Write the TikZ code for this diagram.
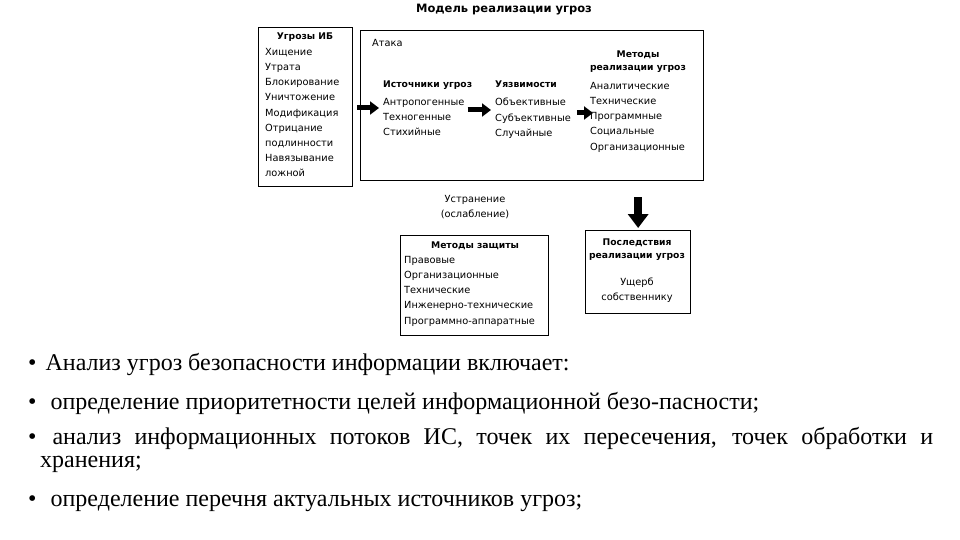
\documentclass[tikz,border=0pt]{standalone}
\usepackage{fontspec}
\setmainfont{Liberation Serif}
\newfontfamily\schemefont{DejaVu Sans}
\usetikzlibrary{arrows.meta,positioning}
\tikzset{frame/.style={draw, line width=1.3pt, anchor=north west},
         listtext/.style={font=\schemefont\fontsize{9.8}{15.2}\selectfont,
            align=left, anchor=north west, inner sep=0pt},
         headtext/.style={font=\schemefont\bfseries\fontsize{9.2}{13}\selectfont,
            align=center, inner sep=0pt},
         fat/.style={-{Triangle[length=9pt,width=13pt]}, line width=5pt},
         bigfat/.style={-{Triangle[length=14pt,width=20pt]}, line width=8pt},
         bullettext/.style={font=\fontsize{24}{23}\selectfont,
            anchor=base west, inner sep=0pt}}

\begin{document}
\begin{tikzpicture}[x=1pt,y=-1pt]
  \useasboundingbox (0,0) rectangle (960,540);
  % title
  \node[headtext, font=\schemefont\bfseries\fontsize{11.5}{13}\selectfont] (title) at (504,10) {Модель реализации угроз};
  % threats
  \node[frame, minimum width=94pt, minimum height=159pt] (threats) at (258,27) {};
  \node[headtext] (threatshead) at (305,37) {Угрозы ИБ};
  \node[listtext] (threatlist) at (265,48)
    {Хищение\\Утрата\\Блокирование\\Уничтожение\\Модификация\\Отрицание\\подлинности\\Навязывание\\ложной};
  % attack
  \node[frame, minimum width=343pt, minimum height=150pt] (attack) at (360,30) {};
  \node[listtext] (attackhead) at (372,39) {Атака};
  \node[headtext, anchor=north west] (srchead) at (383,81) {Источники угроз};
  \node[listtext] (src) at (383,98) {Антропогенные\\Техногенные\\Стихийные};
  \node[headtext, anchor=north west] (vulhead) at (495,81) {Уязвимости};
  \node[listtext] (vul) at (495,98) {Объективные\\Субъективные\\Случайные};
  \node[headtext] (methhead) at (638,62) {Методы\\реализации угроз};
  \node[listtext] (meth) at (590,82)
    {Аналитические\\Технические\\Программные\\Социальные\\Организационные};
  % protection
  \node[listtext, align=center, anchor=center] (weaken) at (475,207) {Устранение\\(ослабление)};
  \node[frame, minimum width=148pt, minimum height=100pt] (protect) at (400,235) {};
  \node[headtext] (protecthead) at (475,246) {Методы защиты};
  \node[listtext] (protectlist) at (404,256)
    {Правовые\\Организационные\\Технические\\Инженерно-технические\\Программно-аппаратные};
  % consequences
  \node[frame, minimum width=105pt, minimum height=83pt] (result) at (585,230) {};
  \node[headtext] (resulthead) at (637,250) {Последствия\\реализации угроз};
  \node[listtext, align=center, anchor=center] (damage) at (637,290) {Ущерб\\собственнику};
  % arrows
  \draw[fat, shorten <=4pt, shorten >=4pt] (threats.east |- src.north) ++(0,10) coordinate (a1)
    -- (a1 -| src.west);
  \draw[fat, shorten <=3pt, shorten >=4pt] (src.east |- vul.north) ++(0,12) coordinate (a2)
    -- (a2 -| vul.west);
  \draw[fat, shorten <=6pt, shorten >=-3pt] (vul.east |- meth.north) ++(0,31) coordinate (a3)
    -- (a3 -| meth.west);
  \draw[bigfat, shorten <=16pt, shorten >=2pt] (attack.south -| result.north) -- (result.north);
  % bullets
  \node[bullettext] (b1) at (28,370) {•\hspace{9pt}Анализ угроз безопасности информации включает:};
  \node[bullettext] (b2) at (28,409) {•\hspace{14pt}определение приоритетности целей информационной безо-пасности;};
  \node[font=\fontsize{24}{23}\selectfont, inner sep=0pt, anchor=north west,
        text width=893pt, align=justify] (b3) at (40,427)
    {\hspace*{-12pt}•\hspace{16pt}анализ информационных потоков ИС, точек их пересечения, точек обработки и\linebreak хранения;};
  \node[bullettext] (b4) at (28,506) {•\hspace{14pt}определение перечня актуальных источников угроз;};
\end{tikzpicture}
\end{document}
